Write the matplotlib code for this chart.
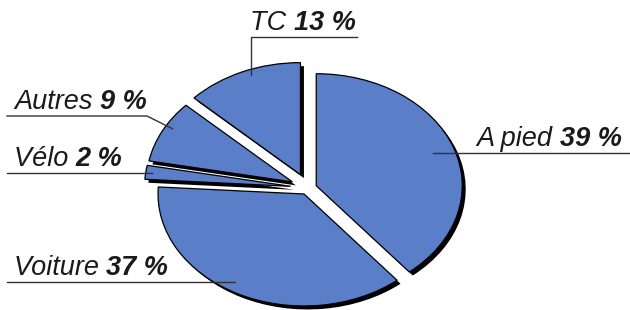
import matplotlib
matplotlib.use('Agg')
import numpy as np
import matplotlib.pyplot as plt
import matplotlib.patheffects as pe

# data, clockwise from the top
labels = ['A pied', 'Voiture', 'Vélo', 'Autres', 'TC']
shares = [39, 37, 2, 9, 13]
explode = [0.06, 0.06, 0.12, 0.12, 0.13]

BLUE = '#5a7ec8'
W, H = 630, 310
CX, CY = 308, 188     # pie centre in pixels (from top-left)
RX, RY = 146, 112     # radii in pixels -> squashed pie

def px(x, y):
    # pixel position -> data coords
    return (x - CX) / RX, (CY - y) / RY

fig = plt.figure(figsize=(6.3, 3.1), dpi=100)
ax = fig.add_axes([0, 0, 1, 1])
wedges, _ = ax.pie(shares, explode=explode, startangle=90, counterclock=False,
                   colors=[BLUE] * len(shares),
                   wedgeprops=dict(edgecolor='black', linewidth=0.9))
for w in wedges:
    w.set_path_effects([pe.SimplePatchShadow(offset=(2.5, -2.5), shadow_rgbFace='black', alpha=1),
                        pe.Normal()])
ax.set_aspect('auto')
ax.set_xlim(px(0, 0)[0], px(W, 0)[0])
ax.set_ylim(px(0, H)[1], px(0, 0)[1])
ax.axis('off')


def anchor(i, ang, r):
    w = wedges[i]
    a = np.deg2rad(ang)
    return w.center[0] + r * np.cos(a), w.center[1] + r * np.sin(a)


LC = '#333333'
TXT = '#1a1a1a'
FS = 19.5

def label(x, y, name, pct):
    t1 = ax.text(x, y, name + ' ', fontsize=FS, style='italic', family='Liberation Sans',
                 color=TXT, va='bottom')
    ax.annotate(pct, xy=(1, 0), xycoords=t1, fontsize=FS, style='italic', weight='bold',
                family='Liberation Sans', color=TXT, va='bottom')

lw = 1.0
# A pied
ax_, ay_ = anchor(0, 20, 0.85)
ax.plot([ax_, px(W, 0)[0]], [ay_, ay_], color=LC, lw=lw)
label(px(476, 0)[0], ay_ + 1 / RY, labels[0], '%d %%' % shares[0])

# Voiture
vx, vy = anchor(1, -121, 0.92)
ax.plot([px(7, 0)[0], vx], [vy, vy], color=LC, lw=lw)
label(px(14, 0)[0], vy + 1 / RY, labels[1], '%d %%' % shares[1])

# Vélo
bx, by = anchor(2, -187, 0.96)
ax.plot([px(7, 0)[0], bx], [by, by], color=LC, lw=lw)
label(px(14, 0)[0], by + 1 / RY, labels[2], '%d %%' % shares[2])

# Autres
ox, oy = anchor(3, 150, 0.95)
uy = px(0, 116)[1]
ax.plot([px(7, 0)[0], px(147, 0)[0], ox], [uy, uy, oy], color=LC, lw=lw)
label(px(14, 0)[0], uy + 1 / RY, labels[3], '%d %%' % shares[3])

# TC
tx, ty = anchor(4, 111, 0.95)
uy = px(0, 37)[1]
ax.plot([px(357, 0)[0], tx, tx], [uy, uy, ty], color=LC, lw=lw)
label(px(250, 0)[0], uy + 1 / RY, labels[4], '%d %%' % shares[4])

fig.savefig('out.png', dpi=100)
